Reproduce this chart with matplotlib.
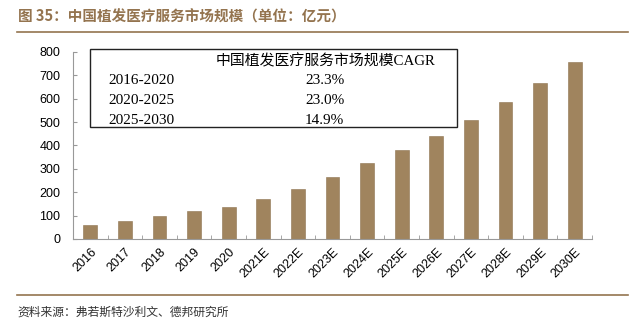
import matplotlib.pyplot as plt
import numpy as np

plt.rcParams['font.family'] = ['Liberation Sans', 'Noto Sans CJK SC', 'DejaVu Sans']

# dados
anos = ['2016', '2017', '2018', '2019', '2020', '2021E', '2022E', '2023E',
        '2024E', '2025E', '2026E', '2027E', '2028E', '2029E', '2030E']
valores = [60, 78, 100, 121, 135, 170, 212, 266, 323, 379, 440, 510, 585, 668, 758]
periodos = ['2016-2020', '2020-2025', '2025-2030']
cagr = ['23.3%', '23.0%', '14.9%']

titulo = '图 35：中国植发医疗服务市场规模（单位：亿元）'
fonte = '资料来源：弗若斯特沙利文、德邦研究所'
cabecalho = '中国植发医疗服务市场规模CAGR'

cor_barra = '#A0845E'
cor_marrom = '#94744F'

fig = plt.figure(figsize=(6.4, 3.21), dpi=100)
ax = fig.add_axes([0.114, 0.2555, 0.811, 0.583])

x = np.arange(len(anos))
ax.bar(x, valores, width=0.4, color=cor_barra, edgecolor='#8E7350', linewidth=0.4)

ax.set_xlim(-0.5, len(anos) - 0.5)
ax.set_ylim(0, 800)
ax.set_yticks(range(0, 801, 100))
ax.set_xticks(x)
ax.set_xticklabels(anos, rotation=45, ha='right', rotation_mode='anchor', fontsize=9)
ax.set_xticks(np.arange(-0.5, len(anos), 1), minor=True)
ax.tick_params(axis='x', which='major', length=0, pad=5)
ax.tick_params(axis='x', which='minor', length=3, color='#999999', direction='in')
ax.tick_params(axis='y', labelsize=9, length=3, color='#999999', direction='in', pad=9)

for s in ['top', 'right']:
    ax.spines[s].set_visible(False)
for s in ['left', 'bottom']:
    ax.spines[s].set_color('#999999')
    ax.spines[s].set_linewidth(0.8)

# tabela de CAGR
caixa = plt.Rectangle((90 / 640, 1 - 127 / 321), (457 - 90) / 640, (127 - 49) / 321,
                      transform=fig.transFigure, fill=False, edgecolor='#222222',
                      linewidth=1.0)
fig.add_artist(caixa)
fonte_tab = ['Liberation Serif', 'Noto Sans CJK SC']
fig.text(326 / 640, 1 - 61 / 321, cabecalho, ha='center', va='center',
         fontsize=10.7, family=fonte_tab)
for i, (p, c) in enumerate(zip(periodos, cagr)):
    yy = 1 - (81 + i * 19.5) / 321
    fig.text(108 / 640, yy, p, ha='left', va='center', fontsize=11, family=fonte_tab)
    fig.text(305 / 640, yy, c, ha='left', va='center', fontsize=11, family=fonte_tab)

# titulo, linhas e fonte
fig.text(18 / 640, 1 - 17 / 321, titulo, ha='left', va='center', fontsize=10.5,
         color=cor_marrom, fontweight='bold',
         family=['Noto Sans CJK SC', 'DejaVu Sans'])
fig.add_artist(plt.Line2D([17 / 640, 628 / 640], [1 - 32 / 321, 1 - 32 / 321],
                          transform=fig.transFigure, color=cor_marrom, linewidth=1.2))
fig.add_artist(plt.Line2D([17 / 640, 628 / 640], [1 - 295 / 321, 1 - 295 / 321],
                          transform=fig.transFigure, color=cor_marrom, linewidth=1.2))
fig.text(17 / 640, 1 - 312 / 321, fonte, ha='left', va='center', fontsize=8.5,
         color='#333333', family=['Noto Sans CJK SC', 'DejaVu Sans'])

fig.savefig('out.png', dpi=100)
